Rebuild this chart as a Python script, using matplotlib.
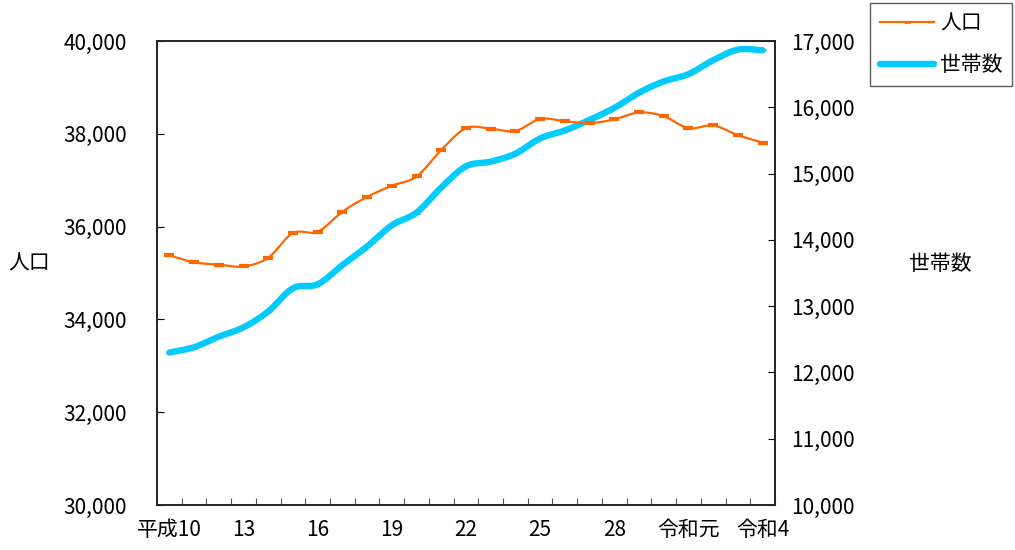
import numpy as np
import matplotlib
matplotlib.use('Agg')
import matplotlib.pyplot as plt
from matplotlib.lines import Line2D

plt.rcParams['font.family'] = ['Noto Sans CJK JP', 'DejaVu Sans']

# 平成10 (1998) .. 令和4 (2022)
years = ["平成10", "11", "12", "13", "14", "15", "16", "17", "18", "19", "20", "21",
         "22", "23", "24", "25", "26", "27", "28", "29", "30", "令和元", "2", "3", "令和4"]
population = [35380, 35230, 35180, 35140, 35330, 35860, 35890, 36320, 36640, 36880,
              37080, 37650, 38120, 38110, 38060, 38320, 38270, 38230, 38310, 38460,
              38380, 38120, 38180, 37970, 37810]
households = [12300, 12380, 12540, 12680, 12920, 13270, 13330, 13620, 13900, 14220,
              14410, 14790, 15110, 15180, 15300, 15530, 15650, 15810, 15990, 16220,
              16390, 16500, 16710, 16870, 16860]
shown_labels = {0: "平成10", 3: "13", 6: "16", 9: "19", 12: "22", 15: "25",
                18: "28", 21: "令和元", 24: "令和4"}

ORANGE = "#ff6600"
BLUE = "#00ccff"


def smooth(x, y, n=16):
    """Catmull-Rom curve through the points, only for drawing the smoothed line"""
    x = np.asarray(x, float)
    y = np.asarray(y, float)
    px = np.concatenate([[2 * x[0] - x[1]], x, [2 * x[-1] - x[-2]]])
    py = np.concatenate([[2 * y[0] - y[1]], y, [2 * y[-1] - y[-2]]])
    t = np.linspace(0, 1, n, endpoint=False)[:, None]
    out_x, out_y = [], []
    for i in range(1, len(px) - 2):
        for p, out in ((px, out_x), (py, out_y)):
            p0, p1, p2, p3 = p[i - 1], p[i], p[i + 1], p[i + 2]
            seg = 0.5 * ((2 * p1) + (-p0 + p2) * t + (2 * p0 - 5 * p1 + 4 * p2 - p3) * t ** 2
                         + (-p0 + 3 * p1 - 3 * p2 + p3) * t ** 3)
            out.extend(seg.ravel())
    out_x.append(x[-1])
    out_y.append(y[-1])
    return np.array(out_x), np.array(out_y)


fig = plt.figure(figsize=(10.15, 5.5), dpi=100)
ax = fig.add_axes([0.1547, 0.0818, 0.6088, 0.8437])
ax2 = ax.twinx()

x = np.arange(len(years))

sx, sy = smooth(x, households)
ax2.plot(sx, sy, color=BLUE, lw=4.6, solid_capstyle='round', zorder=2)
ax2.plot(x, households, ls='none', marker='_', ms=5, mew=2, color="#19c0f0", zorder=3)

sx, sy = smooth(x, population)
ax.plot(sx, sy, color=ORANGE, lw=1.6, zorder=4)
ax.plot(x, population, ls='none', marker='_', ms=7, mew=3, color=ORANGE, zorder=5)

ax.set_zorder(ax2.get_zorder() + 1)
ax.patch.set_visible(False)

ax.set_xlim(-0.5, len(years) - 0.5)
ax.set_ylim(30000, 40000)
ax2.set_ylim(10000, 17000)
ax.set_yticks(np.arange(30000, 40001, 2000))
ax2.set_yticks(np.arange(10000, 17001, 1000))
ax.yaxis.set_major_formatter(matplotlib.ticker.FuncFormatter(lambda v, p: "{:,.0f}".format(v)))
ax2.yaxis.set_major_formatter(matplotlib.ticker.FuncFormatter(lambda v, p: "{:,.0f}".format(v)))

ax.set_xticks(np.arange(-0.5, len(years) + 0.5, 1.0))
ax.set_xticklabels([])
ax.set_xticks(list(shown_labels.keys()), minor=True)
ax.set_xticklabels(list(shown_labels.values()), minor=True)
ax.tick_params(axis='x', which='major', direction='in', length=5, color='#555555')
ax.tick_params(axis='x', which='minor', length=0, pad=10, labelsize=15)

ax.tick_params(axis='y', direction='in', length=5, labelsize=15, pad=21.5)
ax2.tick_params(axis='y', direction='in', length=5, labelsize=15, pad=12)

for a in (ax, ax2):
    for s in a.spines.values():
        s.set_color('#222222')
        s.set_linewidth(1.2)

fig.text(0.029, 0.52, "人口", fontsize=15, ha='center', va='center')
fig.text(0.926, 0.52, "世帯数", fontsize=15, ha='center', va='center')

handles = [Line2D([0, 1, 2], [0, 0, 0], color=ORANGE, lw=1.6, marker='_', ms=5, mew=2),
           Line2D([], [], color=BLUE, lw=4.6, solid_capstyle='round')]
leg = fig.legend(handles, ["人口", "世帯数"], loc='upper right', bbox_to_anchor=(0.997, 0.9945),
                 fontsize=15, frameon=True, fancybox=False, edgecolor='#333333',
                 handlelength=2.6, borderpad=0.45, labelspacing=0.95, handletextpad=0.3,
                 borderaxespad=0, numpoints=1)
leg.get_frame().set_linewidth(1.0)

fig.savefig("out.png", dpi=100)
